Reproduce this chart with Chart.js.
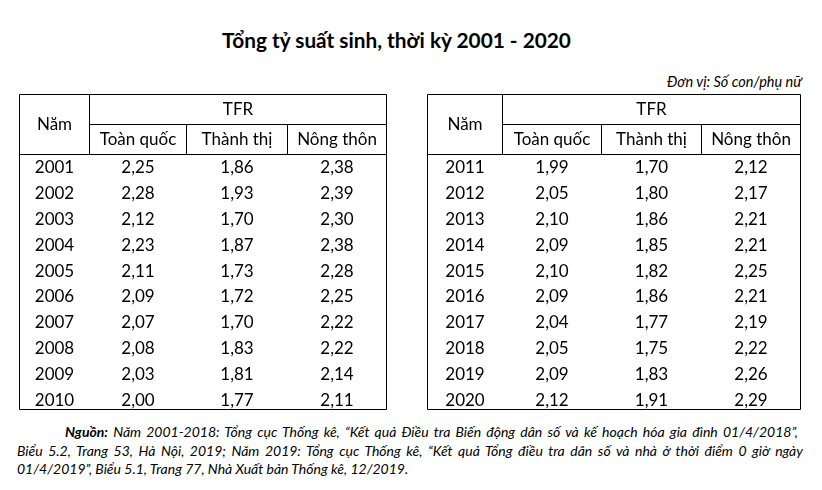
<!DOCTYPE html>
<html><head><meta charset="utf-8">
<script src="https://cdn.jsdelivr.net/npm/chart.js@4/dist/chart.umd.min.js"></script>
<style>
html,body{margin:0;padding:0;background:#fff;}
body{width:822px;height:490px;position:relative;overflow:hidden;font-family:Lato,"Open Sans",sans-serif;color:#000;}
#title{position:absolute;left:0;width:793px;top:30px;text-align:center;font-weight:bold;font-size:20.8px;line-height:20.8px;}
#unit{position:absolute;right:20px;top:75px;font-style:italic;font-size:14.5px;line-height:14.5px;}
.fn{position:absolute;font-style:italic;font-size:14px;line-height:18px;height:18px;}
.j{text-align:justify;text-align-last:justify;}
canvas{position:absolute;}
</style></head>
<body>
<div id="title">Tổng tỷ suất sinh, thời kỳ 2001 - 2020</div>
<div id="unit">Đơn vị: Số con/phụ nữ</div>
<canvas id="t1" width="369" height="322" style="left:19px;top:94px"></canvas>
<canvas id="t2" width="375" height="322" style="left:427px;top:94px"></canvas>
<div class="fn j" style="left:65px;width:733px;top:423px"><b>Nguồn:</b> Năm 2001-2018: Tổng cục Thống kê, “Kết quả Điều tra Biến động dân số và kế hoạch hóa gia đình 01/4/2018”,</div>
<div class="fn j" style="left:17px;width:786px;top:441.5px">Biểu 5.2, Trang 53, Hà Nội, 2019; Năm 2019: Tổng cục Thống kê, “Kết quả Tổng điều tra dân số và nhà ở thời điểm 0 giờ ngày</div>
<div class="fn" style="left:17px;top:459.5px">01/4/2019”, Biểu 5.1, Trang 77, Nhà Xuất bản Thống kê, 12/2019.</div>
<script>
const columnLabels = ['Năm', 'Toàn quốc', 'Thành thị', 'Nông thôn'];
const groupLabel = 'TFR';

const years1 = ['2001','2002','2003','2004','2005','2006','2007','2008','2009','2010'];
const toanQuoc1 = [2.25, 2.28, 2.12, 2.23, 2.11, 2.09, 2.07, 2.08, 2.03, 2.00];
const thanhThi1 = [1.86, 1.93, 1.70, 1.87, 1.73, 1.72, 1.70, 1.83, 1.81, 1.77];
const nongThon1 = [2.38, 2.39, 2.30, 2.38, 2.28, 2.25, 2.22, 2.22, 2.14, 2.11];

const years2 = ['2011','2012','2013','2014','2015','2016','2017','2018','2019','2020'];
const toanQuoc2 = [1.99, 2.05, 2.10, 2.09, 2.10, 2.09, 2.04, 2.05, 2.09, 2.12];
const thanhThi2 = [1.70, 1.80, 1.86, 1.85, 1.82, 1.86, 1.77, 1.75, 1.83, 1.91];
const nongThon2 = [2.12, 2.17, 2.21, 2.21, 2.25, 2.21, 2.19, 2.22, 2.26, 2.29];

const FONT = '17px Lato, "Open Sans", sans-serif';
const fmt = v => v.toFixed(2).replace('.', ',');

const tablePlugin = {
  id: 'tablePlugin',
  afterDatasetsDraw(chart, args, opts) {
    const ctx = chart.ctx;
    const xs = chart.scales.x, ys = chart.scales.y;
    const e = opts.edges.map(v => xs.getPixelForValue(v));
    const mid = (a, b) => (e[a] + e[b]) / 2;
    const top = opts.top, hMid = opts.headerMid, hBot = opts.headerBottom, bot = opts.bottom;
    ctx.save();
    ctx.strokeStyle = '#000';
    ctx.lineWidth = 1;
    ctx.beginPath();
    ctx.rect(e[0], top, e[4] - e[0], bot - top);
    ctx.moveTo(e[1], hMid); ctx.lineTo(e[4], hMid);
    ctx.moveTo(e[0], hBot); ctx.lineTo(e[4], hBot);
    ctx.moveTo(e[1], top); ctx.lineTo(e[1], hBot);
    ctx.moveTo(e[2], hMid); ctx.lineTo(e[2], hBot);
    ctx.moveTo(e[3], hMid); ctx.lineTo(e[3], hBot);
    ctx.stroke();
    ctx.fillStyle = '#000';
    ctx.font = FONT;
    ctx.textAlign = 'center';
    ctx.textBaseline = 'middle';
    const dy = opts.textShift;
    ctx.fillText(columnLabels[0], mid(0, 1), (top + hBot) / 2 + dy);
    ctx.fillText(groupLabel, mid(1, 4), (top + hMid) / 2 + dy);
    for (let k = 1; k < 4; k++) ctx.fillText(columnLabels[k], mid(k, k + 1), (hMid + hBot) / 2 + dy);
    ys.getLabels().forEach((lab, i) => ctx.fillText(lab, mid(0, 1), ys.getPixelForValue(i) + dy));
    chart.data.datasets.forEach((ds, di) => {
      const meta = chart.getDatasetMeta(di);
      meta.data.forEach((pt, i) => ctx.fillText(fmt(ds.values[i]), pt.x, pt.y + dy));
    });
    ctx.restore();
  }
};

function makeTable(id, years, series, edges) {
  const canvas = document.getElementById(id);
  const W = canvas.width;
  const datasets = series.map((vals, k) => ({
    label: columnLabels[k + 1],
    values: vals,
    data: years.map((y, i) => ({ x: (edges[k + 1] + edges[k + 2]) / 2, y: y })),
    pointRadius: 0,
    showLine: false
  }));
  new Chart(canvas, {
    type: 'scatter',
    data: { datasets },
    options: {
      responsive: false,
      animation: false,
      events: [],
      layout: { padding: { top: 61, bottom: 3, left: 0, right: 0 } },
      scales: {
        x: { type: 'linear', min: 0, max: W, display: false },
        y: { type: 'category', labels: years, offset: true, display: false }
      },
      plugins: {
        legend: { display: false },
        tooltip: { enabled: false },
        tablePlugin: { edges: edges, top: 0.5, headerMid: 30.5, headerBottom: 60.5, bottom: 315.5, textShift: 0 }
      }
    },
    plugins: [tablePlugin]
  });
}

makeTable('t1', years1, [toanQuoc1, thanhThi1, nongThon1], [0.5, 70.5, 167.5, 268.5, 367.5]);
makeTable('t2', years2, [toanQuoc2, thanhThi2, nongThon2], [0.5, 75.5, 174.5, 274.5, 373.5]);
</script>
</body></html>
